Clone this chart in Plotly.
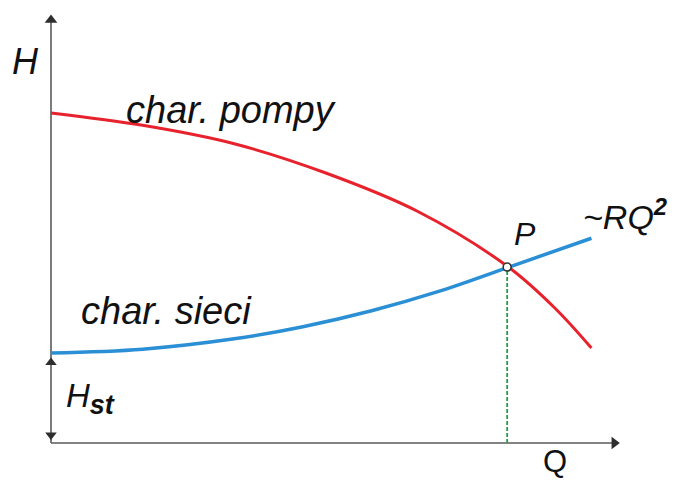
import plotly.graph_objects as go

# Pump characteristic (H over Q)
pump_q = [0, 2, 4, 6, 8, 10, 11, 11.8]
pump_h = [14.67, 14.12, 13.3, 12.0, 10.3, 7.8, 6.0, 4.22]

# System (network) characteristic, starting at the static head
sys_q = [0, 2, 4, 5.5, 7, 8.5, 10, 11.8]
sys_h = [4.0, 4.17, 4.63, 5.17, 5.88, 6.76, 7.82, 9.1]

# Operating point P
op_q = 9.96
op_h = 7.82
h_static = 4.0

# Axis extents (arrow tips)
q_axis_end = 12.3
h_axis_end = 18.8

W, H = 678, 482
AXIS = "#5a5a5a"
HEAD = "#2e2e2e"
FONT = "Liberation Sans, Arial, sans-serif"

fig = go.Figure()

# axes
fig.add_trace(go.Scatter(x=[0, 0], y=[0, h_axis_end], mode="lines",
                         line=dict(color=AXIS, width=1.6), hoverinfo="skip"))
fig.add_trace(go.Scatter(x=[0, q_axis_end], y=[0, 0], mode="lines",
                         line=dict(color=AXIS, width=1.6), hoverinfo="skip"))
fig.add_trace(go.Scatter(x=[0], y=[h_axis_end], mode="markers",
                         marker=dict(symbol="triangle-up", size=11, color=HEAD),
                         hoverinfo="skip"))
fig.add_trace(go.Scatter(x=[q_axis_end], y=[0], mode="markers",
                         marker=dict(symbol="triangle-right", size=11, color=HEAD),
                         hoverinfo="skip"))

# static head double arrow
fig.add_trace(go.Scatter(x=[0, 0], y=[h_static - 0.42, 0.36], mode="markers",
                         marker=dict(symbol=["triangle-up", "triangle-down"], size=10, color=HEAD),
                         hoverinfo="skip"))

# dropline from P
fig.add_trace(go.Scatter(x=[op_q, op_q], y=[0, op_h], mode="lines",
                         line=dict(color="#2a9a48", width=1.8, dash="4px,2px"), hoverinfo="skip"))

# characteristics
fig.add_trace(go.Scatter(x=pump_q, y=pump_h, mode="lines", line_shape="spline",
                         line=dict(color="#e8222c", width=3), hoverinfo="skip"))
fig.add_trace(go.Scatter(x=sys_q, y=sys_h, mode="lines", line_shape="spline",
                         line=dict(color="#2a8fd4", width=3.5), hoverinfo="skip"))

# operating point
fig.add_trace(go.Scatter(x=[op_q], y=[op_h], mode="markers",
                         marker=dict(symbol="circle", size=8, color="white",
                                     line=dict(color="#333333", width=1.6)),
                         hoverinfo="skip"))


def label(text, px, py, size, italic=True, anchor="left"):
    fig.add_annotation(text=text, x=px / W, y=1 - py / H, xref="paper", yref="paper",
                       xanchor=anchor, yanchor="middle", showarrow=False,
                       font=dict(family=FONT, size=size, color="#111111",
                                 style="italic" if italic else "normal"))


label("H", 10, 62, 36)
label("char. pompy", 124, 110, 38)
label("char. sieci", 79, 311, 38)
label("P", 512, 234, 32)
label("~RQ<sup><b>2</b></sup>", 581, 215, 34)
label("H<sub><span style='font-size:27px'><b>st</b></span></sub>", 64, 398, 33)
label("Q", 541, 461, 31, italic=False)

fig.update_xaxes(visible=False, range=[-51 / 45.8, 627 / 45.8])
fig.update_yaxes(visible=False, range=[-39 / 22.5, 443 / 22.5])
fig.update_layout(width=W, height=H, margin=dict(l=0, r=0, t=0, b=0),
                  plot_bgcolor="white", paper_bgcolor="white", showlegend=False)

fig.write_html("out.html")
